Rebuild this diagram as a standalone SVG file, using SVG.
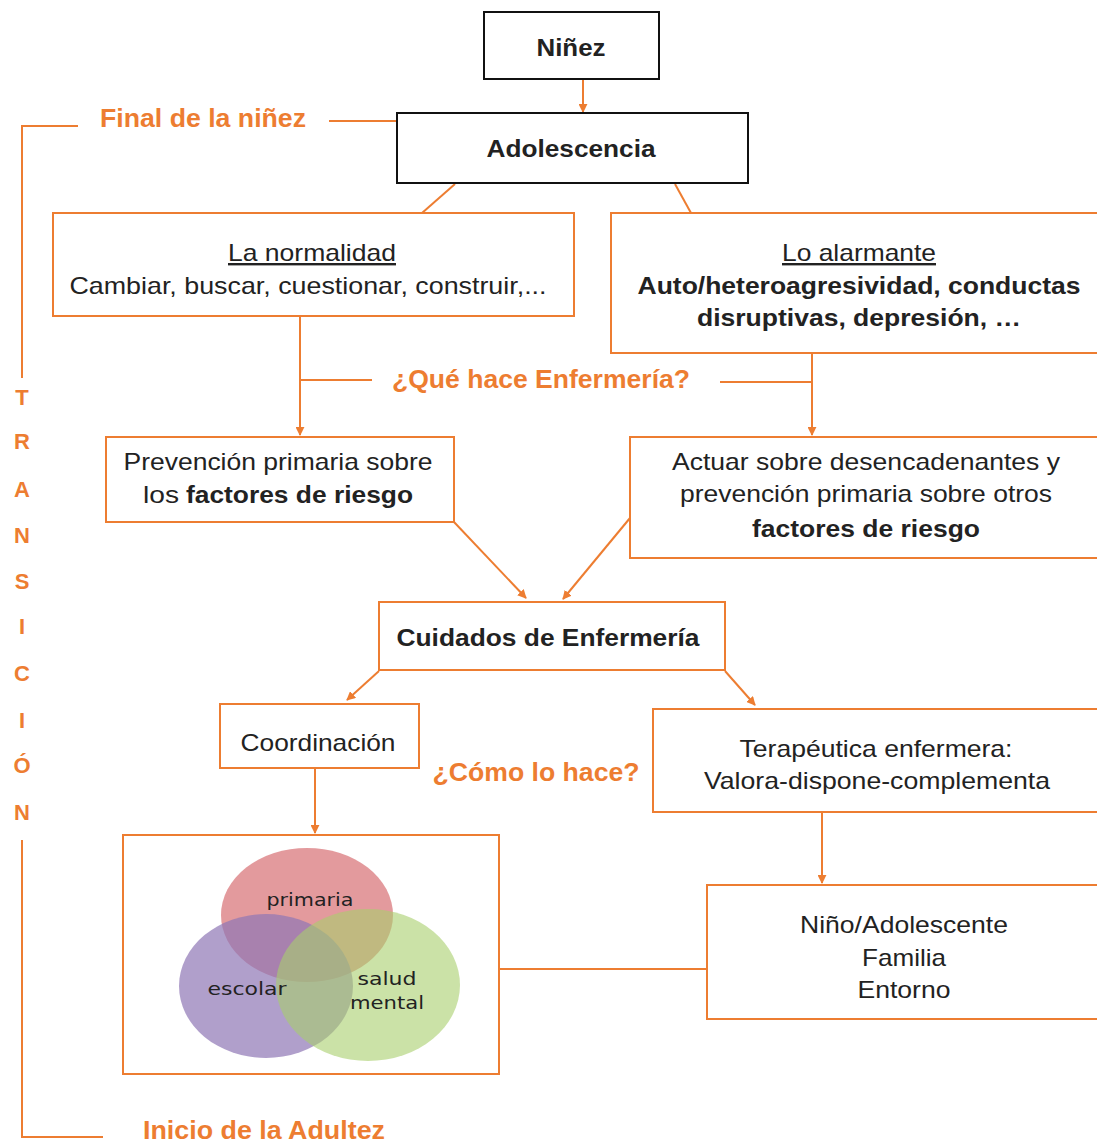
<svg xmlns="http://www.w3.org/2000/svg" width="1097" height="1142" viewBox="0 0 1097 1142">
<style>
.box{fill:#fff;stroke:#ED7D31;stroke-width:2}
.bbox{fill:#fff;stroke:#111;stroke-width:2}
.t{font-family:"Liberation Sans",Arial,sans-serif;font-size:24px;fill:#222;text-anchor:middle}
.b{font-weight:bold}
.o{font-family:"Liberation Sans",Arial,sans-serif;font-size:25px;font-weight:bold;fill:#ED7D31;text-anchor:middle}
.ln{stroke:#ED7D31;stroke-width:2;fill:none}
.v{font-family:"DejaVu Sans",sans-serif;font-size:18px;fill:#222;text-anchor:middle}
</style>
<defs>
<marker id="ar" viewBox="0 0 10 10" refX="9" refY="5" markerWidth="9" markerHeight="9" orient="auto" markerUnits="userSpaceOnUse">
<path d="M0,0 L10,5 L0,10 z" fill="#ED7D31"/>
</marker>
</defs>
<rect width="1097" height="1142" fill="#fff"/>
<g id="connectors">
<line class="ln" x1="583" y1="79" x2="583" y2="112" marker-end="url(#ar)"/>
<line class="ln" x1="329" y1="121" x2="397" y2="121"/>
<line class="ln" x1="455" y1="184" x2="422" y2="213"/>
<line class="ln" x1="675" y1="184" x2="691" y2="213"/>
<line class="ln" x1="300" y1="317" x2="300" y2="435" marker-end="url(#ar)"/>
<line class="ln" x1="300" y1="380" x2="372" y2="380"/>
<line class="ln" x1="720" y1="382" x2="812" y2="382"/>
<line class="ln" x1="812" y1="354" x2="812" y2="435" marker-end="url(#ar)"/>
<line class="ln" x1="454" y1="522" x2="526" y2="598" marker-end="url(#ar)"/>
<line class="ln" x1="630" y1="518" x2="563" y2="599" marker-end="url(#ar)"/>
<line class="ln" x1="379" y1="671" x2="347" y2="700" marker-end="url(#ar)"/>
<line class="ln" x1="725" y1="671" x2="755" y2="705" marker-end="url(#ar)"/>
<line class="ln" x1="315" y1="769" x2="315" y2="833" marker-end="url(#ar)"/>
<line class="ln" x1="822" y1="813" x2="822" y2="883" marker-end="url(#ar)"/>
<line class="ln" x1="499" y1="969" x2="707" y2="969"/>
</g>
<g id="transicion">
<polyline class="ln" points="78,126 22,126 22,378"/>
<polyline class="ln" points="22,840 22,1137 103,1137"/>
<text class="o" x="203" y="127" textLength="206" lengthAdjust="spacingAndGlyphs">Final de la niñez</text>
<text class="o" x="264" y="1139" textLength="242" lengthAdjust="spacingAndGlyphs">Inicio de la Adultez</text>
<g font-family="'Liberation Sans',Arial,sans-serif" font-size="22" font-weight="bold" fill="#ED7D31" text-anchor="middle">
<text x="22" y="405">T</text>
<text x="22" y="449">R</text>
<text x="22" y="497">A</text>
<text x="22" y="543">N</text>
<text x="22" y="589">S</text>
<text x="22" y="634">I</text>
<text x="22" y="681">C</text>
<text x="22" y="728">I</text>
<text x="22" y="773">Ó</text>
<text x="22" y="820">N</text>
</g>
</g>
<g id="ninez">
<rect class="bbox" x="484" y="12" width="175" height="67"/>
<text class="t b" x="571" y="56" textLength="69" lengthAdjust="spacingAndGlyphs">Niñez</text>
</g>
<g id="adolescencia">
<rect class="bbox" x="397" y="113" width="351" height="70"/>
<text class="t b" x="571" y="157" textLength="169" lengthAdjust="spacingAndGlyphs">Adolescencia</text>
</g>
<g id="normalidad">
<rect class="box" x="53" y="213" width="521" height="103"/>
<text class="t" x="312" y="261" text-decoration="underline" textLength="168" lengthAdjust="spacingAndGlyphs">La normalidad</text>
<text class="t" x="308" y="294" textLength="477" lengthAdjust="spacingAndGlyphs">Cambiar, buscar, cuestionar, construir,...</text>
</g>
<g id="alarmante">
<rect class="box" x="611" y="213" width="500" height="140"/>
<text class="t" x="859" y="261" text-decoration="underline" textLength="154" lengthAdjust="spacingAndGlyphs">Lo alarmante</text>
<text class="t b" x="859" y="294" textLength="443" lengthAdjust="spacingAndGlyphs">Auto/heteroagresividad, conductas</text>
<text class="t b" x="859" y="326" textLength="324" lengthAdjust="spacingAndGlyphs">disruptivas, depresión, …</text>
</g>
<text id="que-hace" class="o" x="541" y="388" textLength="298" lengthAdjust="spacingAndGlyphs">¿Qué hace Enfermería?</text>
<g id="prevencion">
<rect class="box" x="106" y="437" width="348" height="85"/>
<text class="t" x="278" y="470" textLength="309" lengthAdjust="spacingAndGlyphs">Prevención primaria sobre</text>
<text class="t" x="143" y="503" text-anchor="start" textLength="36" lengthAdjust="spacingAndGlyphs" style="text-anchor:start">los</text>
<text class="t b" x="186" y="503" textLength="227" lengthAdjust="spacingAndGlyphs" style="text-anchor:start">factores de riesgo</text>
</g>
<g id="actuar">
<rect class="box" x="630" y="437" width="480" height="121"/>
<text class="t" x="866" y="470" textLength="388" lengthAdjust="spacingAndGlyphs">Actuar sobre desencadenantes y</text>
<text class="t" x="866" y="502" textLength="372" lengthAdjust="spacingAndGlyphs">prevención primaria sobre otros</text>
<text class="t b" x="866" y="537" textLength="228" lengthAdjust="spacingAndGlyphs">factores de riesgo</text>
</g>
<g id="cuidados">
<rect class="box" x="379" y="602" width="346" height="68"/>
<text class="t b" x="548" y="646" textLength="303" lengthAdjust="spacingAndGlyphs">Cuidados de Enfermería</text>
</g>
<g id="coordinacion">
<rect class="box" x="220" y="704" width="199" height="64"/>
<text class="t" x="318" y="751" textLength="155" lengthAdjust="spacingAndGlyphs">Coordinación</text>
</g>
<text id="como" class="o" x="536" y="781" textLength="207" lengthAdjust="spacingAndGlyphs">¿Cómo lo hace?</text>
<g id="terapeutica">
<rect class="box" x="653" y="709" width="460" height="103"/>
<text class="t" x="876" y="757" textLength="273" lengthAdjust="spacingAndGlyphs">Terapéutica enfermera:</text>
<text class="t" x="877" y="789" textLength="346" lengthAdjust="spacingAndGlyphs">Valora-dispone-complementa</text>
</g>
<g id="venn">
<rect class="box" x="123" y="835" width="376" height="239"/>
<ellipse cx="307" cy="915" rx="86" ry="67" fill="#d9787c" opacity="0.75"/>
<ellipse cx="266" cy="986" rx="87" ry="72" fill="#8f76b5" opacity="0.7"/>
<ellipse cx="368" cy="985" rx="92" ry="76" fill="#a8cf6c" opacity="0.6"/>
<text class="v" x="310" y="906" textLength="87" lengthAdjust="spacingAndGlyphs">primaria</text>
<text class="v" x="247" y="995" textLength="79" lengthAdjust="spacingAndGlyphs">escolar</text>
<text class="v" x="387" y="985" textLength="59" lengthAdjust="spacingAndGlyphs">salud</text>
<text class="v" x="387" y="1009" textLength="74" lengthAdjust="spacingAndGlyphs">mental</text>
</g>
<g id="nino">
<rect class="box" x="707" y="885" width="405" height="134"/>
<text class="t" x="904" y="933" textLength="208" lengthAdjust="spacingAndGlyphs">Niño/Adolescente</text>
<text class="t" x="904" y="966" textLength="84" lengthAdjust="spacingAndGlyphs">Familia</text>
<text class="t" x="904" y="998" textLength="93" lengthAdjust="spacingAndGlyphs">Entorno</text>
</g>
</svg>
